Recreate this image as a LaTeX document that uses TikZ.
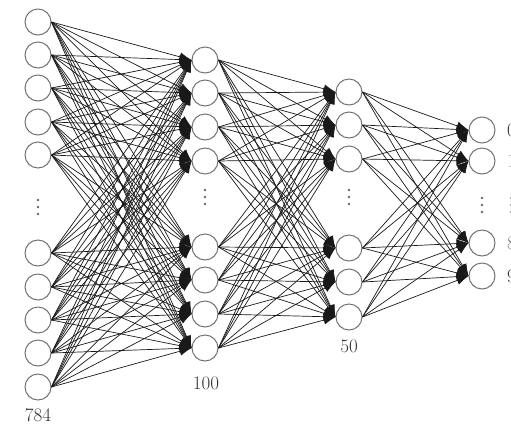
\documentclass[tikz,border=0pt]{standalone}
\usetikzlibrary{arrows.meta}
\begin{document}
\begin{tikzpicture}[x=1pt,y=-1pt,
  neuron/.style={circle,draw=black!55,line width=1pt,minimum size=26pt,inner sep=0pt,fill=white},
  conn/.style={line width=0.7pt,draw=black!90,-{Latex[length=12pt,width=9pt]}},
  lbl/.style={font=\fontsize{19}{22}\selectfont,text=black!80,inner sep=0pt},
  dotmark/.style={fill=black!60}]
\useasboundingbox (0,0) rectangle (511,432);
% layer 1
\foreach \i/\y in {1/22,2/55,3/88,4/122,5/155,6/253,7/287,8/320,9/353,10/387}
  \node[neuron] (a\i) at (38,\y) {};
% layer 2
\foreach \i/\y in {1/60,2/93,3/127,4/161,5/247,6/280,7/314,8/348}
  \node[neuron] (b\i) at (205,\y) {};
% layer 3
\foreach \i/\y in {1/92,2/125,3/159,4/248,5/282,6/317}
  \node[neuron] (c\i) at (349,\y) {};
% layer 4
\foreach \i/\y in {1/130,2/161,3/243,4/276}
  \node[neuron] (d\i) at (482,\y) {};
% connections
\foreach \i in {1,...,10}
  \foreach \j in {1,...,8}
    \draw[conn] (a\i.east) -- (b\j.west);
\foreach \i in {1,...,8}
  \foreach \j in {1,...,6}
    \draw[conn] (b\i.east) -- (c\j.west);
\foreach \i in {1,...,6}
  \foreach \j in {1,...,4}
    \draw[conn] (c\i.east) -- (d\j.west);
% vertical dots
\foreach \x/\y in {38/207,205/197,349/197,482/205}
  \foreach \d in {-7,0,7}
    \fill[dotmark] (\x,\y+\d) circle (1.3pt);
% labels
\node[lbl] (n784) at (38,415) {784};
\node[lbl] (n100) at (206,383) {100};
\node[lbl] (n50) at (349,346) {50};
\node[lbl,anchor=west] (o0) at (507,130) {0};
\node[lbl,anchor=west,text=black!40] (o1) at (507,161) {1};
\foreach \d in {-7,0,7}
  \fill[black!35] (511,205+\d) circle (1.3pt);
\node[lbl,anchor=west,text=black!55] (o8) at (507,243) {8};
\node[lbl,anchor=west] (o9) at (507,276) {9};
\end{tikzpicture}
\end{document}
